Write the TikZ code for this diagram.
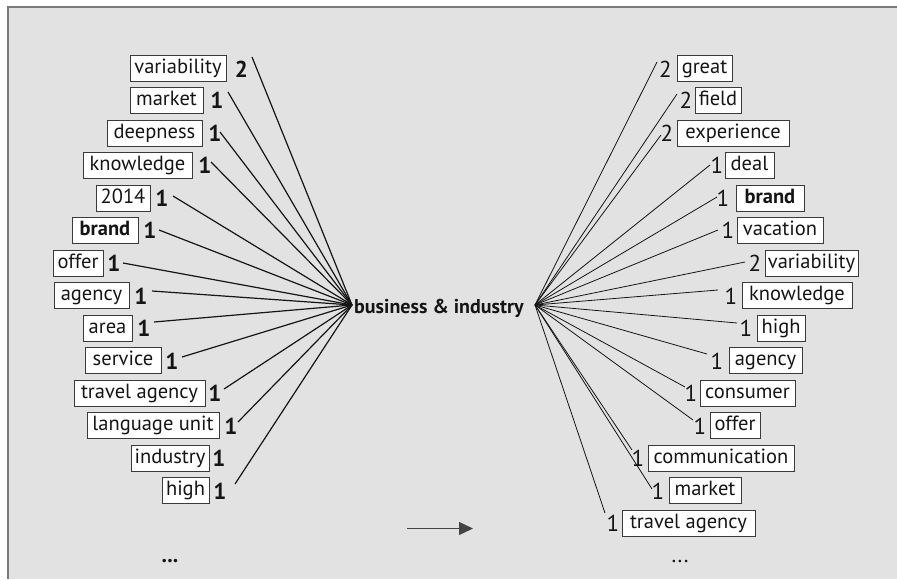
\documentclass[tikz,border=0pt]{standalone}
\usepackage{fontspec}
\setmainfont{PT Sans}
\usetikzlibrary{arrows.meta}
\definecolor{bg}{HTML}{E2E2E2}
\definecolor{frame}{HTML}{7A7A7A}
\definecolor{boxline}{HTML}{3A3A3A}
\definecolor{ink}{HTML}{151515}
\begin{document}
\begin{tikzpicture}[x=1pt,y=-1pt,
  wbox/.style={draw=boxline,fill=white,line width=0.8pt,inner sep=0pt,
    minimum height=26pt,text height=15pt,text depth=5pt,
    font=\fontsize{20.5}{20.5}\selectfont,text=ink},
  lnum/.style={inner sep=0pt,font=\fontsize{23}{23}\selectfont\bfseries,text=ink},
  rnum/.style={inner sep=0pt,font=\fontsize{23}{23}\selectfont,text=ink},
  ledge/.style={draw=ink,line width=1.2pt},
  redge/.style={draw=ink,line width=0.8pt}]
\useasboundingbox (0,0) rectangle (897,579);
\fill[white] (0,0) rectangle (897,579);
\fill[bg] (7,6) rectangle (897,579);
\draw[frame,line width=2pt] (7.5,579) -- (7.5,6.5) -- (897,6.5);

% hub
\coordinate (hubL) at (352,305);
\coordinate (hubR) at (535,305);
\node[anchor=base west,inner sep=0pt,font=\fontsize{20}{20}\selectfont\bfseries,text=ink] (hub) at (354,313) {business \& industry};

% left column
\node[wbox,minimum width=96pt] (l1) at (178,68) {variability};
\node[wbox,minimum width=73pt] (l2) at (166.5,100) {market};
\node[wbox,minimum width=95pt] (l3) at (154.5,133) {deepness};
\node[wbox,minimum width=109pt] (l4) at (137.5,165) {knowledge};
\node[wbox,minimum width=54pt] (l5) at (123,198) {2014};
\node[wbox,minimum width=66pt] (l6) at (105,230) {\bfseries brand};
\node[wbox,minimum width=50pt] (l7) at (78,263) {offer};
\node[wbox,minimum width=75pt] (l8) at (91.5,295.5) {agency};
\node[wbox,minimum width=49pt] (l9) at (107.5,328) {area};
\node[wbox,minimum width=76pt] (l10) at (123,360) {service};
\node[wbox,minimum width=131pt] (l11) at (139.5,393) {travel agency};
\node[wbox,minimum width=132pt] (l12) at (153,425) {language unit};
\node[wbox,minimum width=78pt] (l13) at (170,458) {industry};
\node[wbox,minimum width=47pt] (l14) at (185.5,490) {high};

\node[lnum] (ln1) at (241.5,69) {2};
\node[lnum] (ln2) at (217,100.5) {1};
\node[lnum] (ln3) at (215,133) {1};
\node[lnum] (ln4) at (205,165) {1};
\node[lnum] (ln5) at (162,198) {1};
\node[lnum] (ln6) at (150,230) {1};
\node[lnum] (ln7) at (114,263) {1};
\node[lnum] (ln8) at (141,296) {1};
\node[lnum] (ln9) at (144,328) {1};
\node[lnum] (ln10) at (172,361) {1};
\node[lnum] (ln11) at (215,393) {1};
\node[lnum] (ln12) at (231,426) {1};
\node[lnum] (ln13) at (219,458) {1};
\node[lnum] (ln14) at (220,491) {1};

\coordinate (ls1) at (252,57);
\coordinate (ls2) at (228,92);
\coordinate (ls3) at (220,132);
\coordinate (ls4) at (211,162);
\coordinate (ls5) at (173,196);
\coordinate (ls6) at (159,230);
\coordinate (ls7) at (123,263);
\coordinate (ls8) at (152,291);
\coordinate (ls9) at (154,322);
\coordinate (ls10) at (182,357);
\coordinate (ls11) at (224,389);
\coordinate (ls12) at (238,422);
\coordinate (ls14) at (235,484);
\foreach \i in {1,2,3,4,5,6,7,8,9,10,11,12,14}
  \draw[ledge] (ls\i) -- (hubL);

% right column
\node[wbox,minimum width=55pt] (r1) at (704.5,68) {great};
\node[wbox,minimum width=46pt] (r2) at (718,100) {field};
\node[wbox,minimum width=112pt] (r3) at (733,133) {experience};
\node[wbox,minimum width=49pt] (r4) at (749.5,165) {deal};
\node[wbox,minimum width=68pt] (r5) at (770,198) {\bfseries brand};
\node[wbox,minimum width=86pt] (r6) at (780,230) {vacation};
\node[wbox,minimum width=93pt] (r7) at (811.5,263) {variability};
\node[wbox,minimum width=110pt] (r8) at (797,295.5) {knowledge};
\node[wbox,minimum width=48pt] (r9) at (781,328) {high};
\node[wbox,minimum width=73pt] (r10) at (765.5,360) {agency};
\node[wbox,minimum width=95pt] (r11) at (747.5,393) {consumer};
\node[wbox,minimum width=50pt] (r12) at (735,425) {offer};
\node[wbox,minimum width=146pt] (r13) at (721,458) {communication};
\node[wbox,minimum width=72pt] (r14) at (705,490) {market};
\node[wbox,minimum width=133pt] (r15) at (688.5,523) {travel agency};

\node[rnum] (rn1) at (665.5,69) {2};
\node[rnum] (rn2) at (686,100) {2};
\node[rnum] (rn3) at (667,133) {2};
\node[rnum] (rn4) at (717,165) {1};
\node[rnum] (rn5) at (723,198) {1};
\node[rnum] (rn6) at (728,230) {1};
\node[rnum] (rn7) at (755,263) {2};
\node[rnum] (rn8) at (731,296) {1};
\node[rnum] (rn9) at (746,328) {1};
\node[rnum] (rn10) at (717,361) {1};
\node[rnum] (rn11) at (691,393) {1};
\node[rnum] (rn12) at (700,426) {1};
\node[rnum] (rn13) at (638,458) {1};
\node[rnum] (rn14) at (658,491) {1};
\node[rnum] (rn15) at (613,523) {1};

\coordinate (rs1) at (657,62);
\coordinate (rs2) at (677,94);
\coordinate (rs3) at (661,135);
\coordinate (rs4) at (710,165);
\coordinate (rs5) at (717,197);
\coordinate (rs6) at (718,230);
\coordinate (rs7) at (745,262);
\coordinate (rs8) at (718,290);
\coordinate (rs9) at (737,323);
\coordinate (rs10) at (707,354);
\coordinate (rs11) at (685,387);
\coordinate (rs12) at (693,420);
\coordinate (rs13) at (632,450);
\coordinate (rs14) at (652,489);
\coordinate (rs15) at (605,513);
\foreach \i in {1,...,15}
  \draw[redge] (hubR) -- (rs\i);

% dots and arrow
\node[inner sep=0pt,font=\fontsize{22}{22}\selectfont\bfseries,text=ink] (dl) at (170,561) {...};
\node[inner sep=0pt,font=\fontsize{22}{22}\selectfont,text=ink] (dr) at (680,561) {...};
\coordinate (a1) at (407,528.5);
\coordinate (a2) at (473,528.5);
\draw[draw=ink!80,line width=1.2pt,-{Triangle[length=14pt,width=13pt]}] (a1) -- (a2);
\end{tikzpicture}
\end{document}
